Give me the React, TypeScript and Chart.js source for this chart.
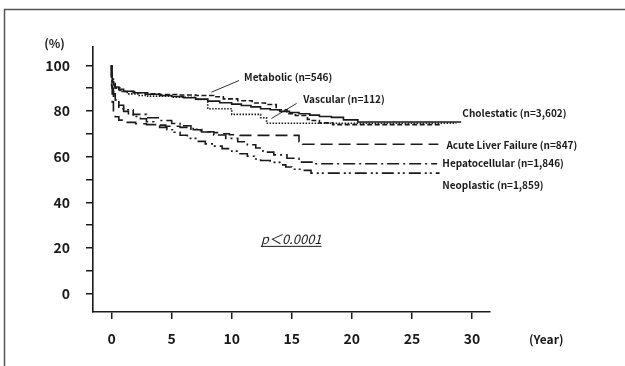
import React, { useEffect, useRef } from 'react';
import { Chart, registerables } from 'chart.js';

Chart.register(...registerables);

// ---- axis ticks ----
const xTickValues = [0, 5, 10, 15, 20, 25, 30];
const yTickValues = [0, 10, 20, 30, 40, 50, 60, 70, 80, 90, 100];
const yLabeledTicks = [0, 20, 40, 60, 80, 100];

// ---- series (years, survival %) ----
const cholestaticYears = [0, 0.05, 0.15, 0.3, 0.6, 1, 1.8, 2.8, 4, 5, 6, 7, 8, 9, 10, 10.8, 11.6, 12.4, 13.2, 14, 14.8, 15.6, 16.5, 17.3, 18.3, 19.3, 20.5, 23.5, 29.1];
const cholestaticPct = [100, 96, 93, 91.5, 90.5, 89.5, 88.6, 88, 87.3, 86.8, 86.3, 85.8, 85.2, 84.3, 83.6, 83, 82.4, 81.8, 81, 80.5, 79.8, 79.3, 78.8, 78.2, 77.6, 77.2, 76.1, 75.2, 75.2];

const metabolicYears = [0, 0.05, 0.15, 0.3, 0.6, 1, 2, 3, 4, 5.5, 7, 8.5, 9.3, 10.5, 11.7, 12.8, 13.7, 14.6, 15.3, 16.3, 16.7, 17.3, 18.4, 19, 27.4];
const metabolicPct = [100, 95, 92.5, 91, 90, 89.3, 88.5, 88, 87.5, 87.2, 87, 86.8, 86.2, 85.3, 84.5, 83.5, 82.8, 80.5, 78.8, 78, 76.3, 75.8, 74.8, 74.0, 74.0];

const vascularYears = [0, 0.05, 0.15, 0.3, 0.7, 1.3, 2.3, 3, 5, 7, 8, 10, 12.4, 12.9, 13.3, 28.7];
const vascularPct = [100, 96, 94, 92, 90, 88.5, 87.5, 86.8, 86.5, 86, 85, 81, 78.5, 77, 74.6, 74.6];

const alfYears = [0, 0.05, 0.15, 0.3, 0.6, 1.2, 2, 2.9, 3.8, 4.5, 5.7, 6.3, 6.8, 7.4, 7.9, 8.5, 9, 9.8, 10.7, 12.5, 15.6, 15.9, 17.4, 27.2];
const alfPct = [100, 91, 84, 79.5, 77.5, 76, 75, 74.4, 74, 73.8, 73.3, 72.8, 72.3, 71.8, 71.4, 70.9, 70.5, 70, 69.6, 69.3, 69.3, 66.5, 65.4, 65.4];

const hepatoYears = [0, 0.05, 0.15, 0.35, 0.6, 1, 1.8, 2.9, 4, 5, 5.7, 6.6, 7.5, 8.5, 9.5, 10.5, 11.3, 12, 12.6, 13.5, 14.6, 15.6, 16.8, 17.5, 27.1];
const hepatoPct = [100, 95, 90, 86.5, 84, 82.5, 80.5, 78.5, 77, 75.8, 74.5, 73.5, 72, 70.8, 69.5, 68, 66.5, 65.2, 63.8, 62, 60.8, 59.3, 57.6, 56.9, 56.9];

const neoYears = [0, 0.05, 0.15, 0.3, 0.6, 1, 1.4, 1.8, 2.4, 2.9, 3.5, 4, 4.6, 5.2, 5.7, 6.3, 7, 7.8, 8.5, 9.2, 10, 10.6, 11.3, 11.9, 12.4, 13.2, 14, 14.5, 15, 15.8, 16.6, 17.1, 27.3];
const neoPct = [100, 94, 90, 87.5, 84, 81, 79.8, 78.8, 77.6, 76.6, 75.3, 74, 72.8, 71.8, 70.7, 69.4, 68, 66.7, 65.6, 64.6, 63.5, 62.4, 61.3, 60.2, 59, 58.3, 57.5, 56.4, 55.5, 54.5, 54, 52.8, 52.8];

const seriesLabels = [
  'Cholestatic (n=3,602)',
  'Metabolic (n=546)',
  'Vascular (n=112)',
  'Acute Liver Failure (n=847)',
  'Hepatocellular (n=1,846)',
  'Neoplastic (n=1,859)',
];

const pValueText = 'p＜0.0001';
const yUnitText = '(%)';
const xUnitText = '(Year)';

const FONT = "'Noto Sans CJK JP', 'Liberation Sans', sans-serif";
const INK = '#1a1a1a';

// label anchors in data coordinates (year, %), left-aligned, vertical middle
const labelAnchors = [
  { i: 0, x: 29.2, y: 79.0 },
  { i: 1, x: 11.03, y: 94.8 },
  { i: 2, x: 15.95, y: 85.0 },
  { i: 3, x: 27.87, y: 64.9 },
  { i: 4, x: 27.53, y: 57.2 },
  { i: 5, x: 27.53, y: 47.7 },
];
const leaderLines = [
  { x1: 8.3, y1: 88.2, x2: 10.6, y2: 93.3 },
  { x1: 13.3, y1: 76.7, x2: 15.4, y2: 83.3 },
];

const toPoints = (xs: number[], ys: number[]) => xs.map((x, i) => ({ x, y: ys[i] }));

const decorPlugin = {
  id: 'decor',
  beforeDraw(chart: any) {
    const ctx = chart.ctx;
    ctx.save();
    ctx.fillStyle = '#ffffff';
    ctx.fillRect(0, 0, chart.width, chart.height);
    ctx.strokeStyle = '#555555';
    ctx.lineWidth = 1.5;
    ctx.beginPath();
    ctx.moveTo(4.5, chart.height);
    ctx.lineTo(4.5, 9.5);
    ctx.lineTo(chart.width, 9.5);
    ctx.stroke();
    ctx.restore();
  },
  afterDraw(chart: any) {
    const ctx = chart.ctx;
    const xs = chart.scales.x;
    const ys = chart.scales.y;
    const px = (v: number) => xs.getPixelForValue(v);
    const py = (v: number) => ys.getPixelForValue(v);
    ctx.save();
    ctx.fillStyle = INK;
    ctx.strokeStyle = INK;
    // units
    ctx.font = `bold 12px ${FONT}`;
    ctx.textBaseline = 'middle';
    ctx.textAlign = 'center';
    ctx.fillText(yUnitText, 54.5, 43);
    ctx.textAlign = 'left';
    ctx.font = `bold 12px ${FONT}`;
    ctx.fillText(xUnitText, 529, ys.bottom + 27);
    // series labels
    ctx.font = `bold 10px ${FONT}`;
    labelAnchors.forEach((a) => {
      ctx.fillText(seriesLabels[a.i], px(a.x), py(a.y));
    });
    // leader lines
    ctx.lineWidth = 0.9;
    leaderLines.forEach((l) => {
      ctx.beginPath();
      ctx.moveTo(px(l.x1), py(l.y1));
      ctx.lineTo(px(l.x2), py(l.y2));
      ctx.stroke();
    });
    // p value
    ctx.font = `italic 13px ${FONT}`;
    ctx.textAlign = 'center';
    const cx = px(14.95);
    const cy = py(23.8);
    ctx.fillText(pValueText, cx, cy);
    const w = ctx.measureText(pValueText).width;
    ctx.lineWidth = 1;
    ctx.beginPath();
    ctx.moveTo(cx - w / 2, cy + 7);
    ctx.lineTo(cx + w / 2, cy + 7);
    ctx.stroke();
    ctx.restore();
  },
};

export default function App() {
  const canvasRef = useRef<HTMLCanvasElement | null>(null);

  useEffect(() => {
    if (!canvasRef.current) return;
    const common = { pointRadius: 0, borderColor: INK, borderWidth: 1.6, fill: false, stepped: 'after' as const, tension: 0 };
    const chart = new Chart(canvasRef.current, {
      type: 'line',
      data: {
        datasets: [
          { ...common, label: seriesLabels[0], data: toPoints(cholestaticYears, cholestaticPct), borderDash: [] },
          { ...common, label: seriesLabels[1], data: toPoints(metabolicYears, metabolicPct), borderDash: [5, 2.5] },
          { ...common, label: seriesLabels[2], data: toPoints(vascularYears, vascularPct), borderDash: [1.5, 1.5] },
          { ...common, label: seriesLabels[3], data: toPoints(alfYears, alfPct), borderDash: [12, 6] },
          { ...common, label: seriesLabels[4], data: toPoints(hepatoYears, hepatoPct), borderDash: [12, 4, 2, 4] },
          { ...common, label: seriesLabels[5], data: toPoints(neoYears, neoPct), borderDash: [12, 4, 2, 3, 2, 4] },
        ],
      },
      options: {
        animation: false,
        responsive: false,
        events: [],
        layout: { padding: { left: 0, top: 47, right: 135, bottom: 0 } },
        plugins: { legend: { display: false }, tooltip: { enabled: false }, title: { display: false } },
        scales: {
          x: {
            type: 'linear',
            min: -1.55,
            max: 31.5,
            afterBuildTicks: (s: any) => { s.ticks = xTickValues.map((v) => ({ value: v })); },
            afterFit: (s: any) => { s.height = 54; },
            grid: { drawOnChartArea: false, drawTicks: true, tickLength: 7, color: INK, lineWidth: 1.5 },
            border: { display: true, color: INK, width: 1.6 },
            ticks: { color: INK, font: { family: FONT, size: 14, weight: 'bold' }, padding: 11, maxRotation: 0, autoSkip: false },
          },
          y: {
            type: 'linear',
            min: -8,
            max: 108,
            afterBuildTicks: (s: any) => { s.ticks = yTickValues.map((v) => ({ value: v })); },
            afterFit: (s: any) => { s.width = 93; },
            grid: { drawOnChartArea: false, drawTicks: true, tickLength: 7, color: INK, lineWidth: 1.5 },
            border: { display: true, color: INK, width: 1.6 },
            ticks: {
              color: INK,
              font: { family: FONT, size: 14, weight: 'bold' },
              padding: 16,
              autoSkip: false,
              callback: (v: any) => (yLabeledTicks.includes(Number(v)) ? String(v) : ''),
            },
          },
        },
      },
      plugins: [decorPlugin],
    });
    return () => chart.destroy();
  }, []);

  return (
    <div style={{ position: 'absolute', left: 0, top: 0, width: 625, height: 366, background: '#fff' }}>
      <canvas ref={canvasRef} width={625} height={366} style={{ display: 'block' }} />
    </div>
  );
}
